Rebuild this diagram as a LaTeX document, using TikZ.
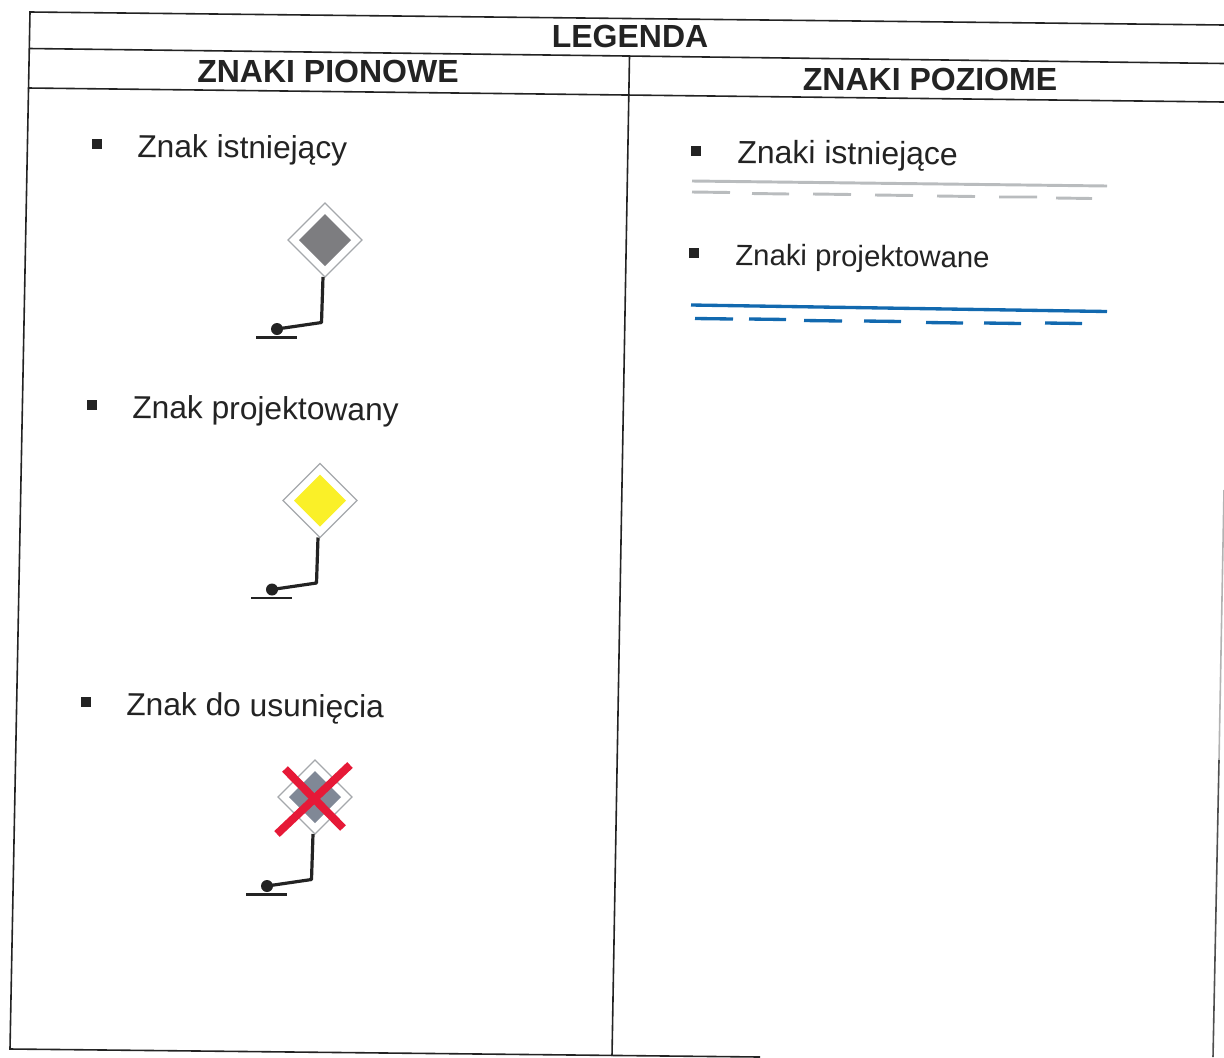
\documentclass[tikz,border=0pt]{standalone}
\usepackage{fontspec}
\setmainfont{Liberation Sans}
\definecolor{signgray}{RGB}{125,125,128}
\definecolor{signblue}{RGB}{128,136,150}
\definecolor{signyellow}{RGB}{250,240,40}
\definecolor{oldline}{RGB}{185,188,190}
\definecolor{newline}{RGB}{18,105,175}
\definecolor{crossred}{RGB}{230,25,55}
\definecolor{ink}{RGB}{35,35,35}
\definecolor{rimgray}{RGB}{165,168,172}
\tikzset{
 frame/.style={draw=ink,line width=1.2pt},
 head/.style={font=\fontsize{24}{24}\selectfont\bfseries,text=ink,inner sep=0pt,anchor=base},
 item/.style={font=\fontsize{23.8}{24}\selectfont,text=ink,inner sep=0pt,anchor=base west,rotate=-0.6},
 itemwide/.style={font=\fontsize{24}{24}\selectfont,text=ink,inner sep=0pt,anchor=base west,rotate=-0.6},
 itemsmall/.style={font=\fontsize{22}{24}\selectfont,text=ink,inner sep=0pt,anchor=base west,rotate=-0.6},
 bullet/.style={fill=ink,minimum size=7pt,inner sep=0pt},
 pole/.style={draw=ink,line width=2.4pt,line join=round},
 rim/.style={draw=rimgray,fill=white,line width=1pt},
 crossbar/.style={crossred,line width=6pt},
 oldmark/.style={oldline,line width=2.2pt},
 newmark/.style={newline,line width=2.5pt},
}
\newcommand{\signpost}[3]{%
 \begin{scope}[shift={(#1,#2)}]
  \draw[rim] (0,-37) -- (37,0) -- (0,37) -- (-37,0) -- cycle;
  \fill[#3] (0,-26) -- (26,0) -- (0,26) -- (-26,0) -- cycle;
  \draw[pole] (-2,37) -- (-3.5,82.5) -- (-48,89);
  \fill[ink] (-48,89) circle[radius=6];
  \draw[ink,line width=2.2pt] (-69,97.5) -- (-28,97.5);
 \end{scope}}
\begin{document}
\begin{tikzpicture}[x=0.75pt,y=-0.75pt]
\useasboundingbox (0,0) rectangle (1224,1057);
\coordinate (tl) at (30,12);
\coordinate (tr) at (1224,25);
\coordinate (ml) at (29,48.5);
\coordinate (mr) at (1224,63.5);
\coordinate (sl) at (28,88);
\coordinate (sr) at (1224,102);
\coordinate (bl) at (10,1049);
\coordinate (br) at (760,1057);
\coordinate (dt) at (629.5,56);
\coordinate (db) at (612,1056);
\coordinate (rt) at (1224,490);
\coordinate (rm) at (1219,760);
\coordinate (rb) at (1213,1057);
\draw[frame] (tr) -- (tl) -- (bl) -- (br);
\draw[frame] (ml) -- (mr);
\draw[frame] (sl) -- (sr);
\draw[frame] (dt) -- (db);
\draw[draw=ink!35,line width=1.2pt] (rt) -- (rm);
\draw[draw=ink!80,line width=1.2pt] (rm) -- (rb);
\node[head] (title) at (630,47) {LEGENDA};
\node[head] (pion) at (328,82) {ZNAKI PIONOWE};
\node[head] (poz) at (930,90) {ZNAKI POZIOME};
\node[bullet] (b1) at (97,144) {};
\node[item] (t1) at (137,157) {Znak istniejący};
\node[bullet] (b2) at (92,405) {};
\node[item] (t2) at (132,418) {Znak projektowany};
\node[bullet] (b3) at (86,702) {};
\node[item] (t3) at (126,715) {Znak do usunięcia};
\node[bullet] (b4) at (696,151) {};
\node[itemwide] (t4) at (737,163) {Znaki istniejące};
\node[bullet] (b5) at (694,253) {};
\node[itemsmall] (t5) at (735,265) {Znaki projektowane};
\signpost{325}{240}{signgray}
\signpost{320}{500.5}{signyellow}
\signpost{315}{797}{signblue}
\draw[crossbar] (285,769) -- (343,828);
\draw[crossbar] (350,765) -- (277,834);
\draw[oldmark] (692,181) -- (1107,186);
\draw[oldmark] (692,192) -- (730,192.5) (752,193.5) -- (789,194) (813,194) -- (851,194.5) (875,195) -- (913,195.5) (937,196) -- (975,196.5) (999,197) -- (1037,197) (1056,198) -- (1092,198.5);
\draw[newmark] (691,305) -- (1107,311.5);
\draw[newmark] (695,318.5) -- (733,319) (749,319) -- (786,319.5) (804,320.5) -- (842,321) (864,321) -- (901,321.5) (926,322.5) -- (963,323) (984,323) -- (1021,323.5) (1045,323) -- (1082,323.5);
\end{tikzpicture}
\end{document}
